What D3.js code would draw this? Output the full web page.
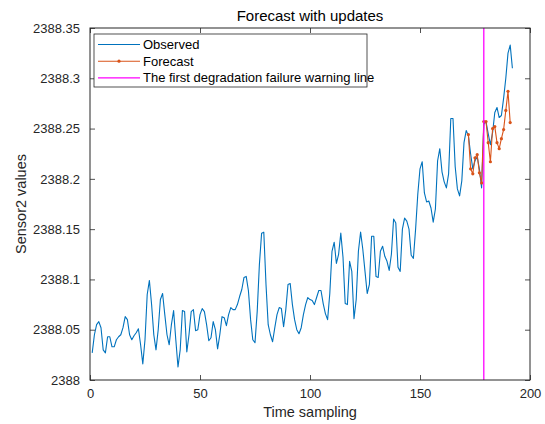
<!DOCTYPE html>
<html>
<head>
<meta charset="utf-8">
<script src="https://cdn.jsdelivr.net/npm/d3@7"></script>
<style>
  body { margin: 0; background: #fff; }
  svg { display: block; font-family: "Liberation Sans", Arial, sans-serif; }
</style>
</head>
<body>
<svg id="chart" width="545" height="424"></svg>
<script>
// ---- data ----
const observedStart = 1;
const observed = [
  2388.027, 2388.045, 2388.055, 2388.058, 2388.052, 2388.030, 2388.027, 2388.043, 2388.043, 2388.033,
  2388.033, 2388.040, 2388.043, 2388.045, 2388.052, 2388.063, 2388.060, 2388.045, 2388.040, 2388.044,
  2388.047, 2388.051, 2388.035, 2388.016, 2388.040, 2388.085, 2388.099, 2388.075, 2388.045, 2388.030,
  2388.050, 2388.080, 2388.086, 2388.065, 2388.045, 2388.035, 2388.055, 2388.069, 2388.040, 2388.013,
  2388.030, 2388.069, 2388.068, 2388.028, 2388.045, 2388.068, 2388.070, 2388.049, 2388.050, 2388.065,
  2388.071, 2388.068, 2388.055, 2388.039, 2388.042, 2388.058, 2388.050, 2388.031, 2388.045, 2388.063,
  2388.062, 2388.054, 2388.065, 2388.072, 2388.070, 2388.070, 2388.075, 2388.083, 2388.090, 2388.102,
  2388.103, 2388.089, 2388.060, 2388.040, 2388.037, 2388.068, 2388.115, 2388.146, 2388.147, 2388.095,
  2388.055, 2388.045, 2388.038, 2388.052, 2388.065, 2388.072, 2388.071, 2388.053, 2388.070, 2388.095,
  2388.096, 2388.075, 2388.060, 2388.050, 2388.046, 2388.052, 2388.065, 2388.075, 2388.082, 2388.080,
  2388.079, 2388.075, 2388.082, 2388.089, 2388.089, 2388.076, 2388.066, 2388.060, 2388.086, 2388.128,
  2388.137, 2388.116, 2388.125, 2388.146, 2388.122, 2388.076, 2388.075, 2388.118, 2388.108, 2388.061,
  2388.080, 2388.128, 2388.147, 2388.130, 2388.108, 2388.086, 2388.095, 2388.143, 2388.143, 2388.103,
  2388.102, 2388.128, 2388.133, 2388.123, 2388.118, 2388.109, 2388.125, 2388.160, 2388.156, 2388.112,
  2388.108, 2388.150, 2388.161, 2388.158, 2388.150, 2388.124, 2388.121, 2388.150, 2388.185, 2388.210,
  2388.217, 2388.186, 2388.177, 2388.178, 2388.171, 2388.157, 2388.170, 2388.218, 2388.230, 2388.207,
  2388.197, 2388.191, 2388.205, 2388.260, 2388.260, 2388.212, 2388.190, 2388.183, 2388.198, 2388.236,
  2388.248, 2388.243, 2388.225, 2388.210, 2388.218, 2388.222, 2388.210, 2388.191, 2388.254, 2388.257,
  2388.245, 2388.234, 2388.246, 2388.266, 2388.271, 2388.261, 2388.263, 2388.280, 2388.300, 2388.325,
  2388.333, 2388.310
];
const forecastStart = 172;
const forecast = [
  2388.244, 2388.210, 2388.205, 2388.221, 2388.224, 2388.206, 2388.196, 2388.257, 2388.257, 2388.236,
  2388.217, 2388.250, 2388.252, 2388.236, 2388.230, 2388.240, 2388.249, 2388.268, 2388.287, 2388.256
];
const warningX = 179;
const xTicks = [0, 50, 100, 150, 200];
const yTicks = [2388, 2388.05, 2388.1, 2388.15, 2388.2, 2388.25, 2388.3, 2388.35];
const yTickLabels = ["2388", "2388.05", "2388.1", "2388.15", "2388.2", "2388.25", "2388.3", "2388.35"];
const legendLabels = ["Observed", "Forecast", "The first degradation failure warning line"];
const titleText = "Forecast with updates";
const xLabelText = "Time sampling";
const yLabelText = "Sensor2 values";

// ---- layout ----
const L = 90, R = 530, T = 28, B = 380;
const axisColor = "#262626";
const cBlue = "#0072BD", cOrange = "#D95319", cMag = "#FF00FF";

const svg = d3.select("#chart");
const x = d3.scaleLinear().domain([0, 200]).range([L, R]);
const y = d3.scaleLinear().domain([2388, 2388.35]).range([B, T]);

const obsData = observed.map((v, i) => [observedStart + i, v]);
const fcData = forecast.map((v, i) => [forecastStart + i, v]);

const clip = svg.append("defs").append("clipPath").attr("id", "clip")
  .append("rect").attr("x", L).attr("y", T).attr("width", R - L).attr("height", B - T);

const plot = svg.append("g").attr("clip-path", "url(#clip)");
const line = d3.line().x(d => x(d[0])).y(d => y(d[1]));

plot.append("path").datum(obsData).attr("d", line)
  .attr("fill", "none").attr("stroke", cBlue).attr("stroke-width", 1.1).attr("stroke-linejoin", "round");

plot.append("path").datum(fcData).attr("d", line)
  .attr("fill", "none").attr("stroke", cOrange).attr("stroke-width", 1.1).attr("stroke-linejoin", "round");
plot.selectAll("circle.fc").data(fcData).enter().append("circle")
  .attr("class", "fc").attr("cx", d => x(d[0])).attr("cy", d => y(d[1])).attr("r", 1.6).attr("fill", cOrange);

plot.append("line").attr("x1", x(warningX)).attr("x2", x(warningX)).attr("y1", y(2388)).attr("y2", y(2388.35))
  .attr("stroke", cMag).attr("stroke-width", 1.3);

// ---- axes (MATLAB style: ticks inside, box on) ----
const tickLen = 5;
const fontTick = 13;
const xAxis = d3.axisBottom(x).tickValues(xTicks).tickSizeInner(-tickLen).tickSizeOuter(0).tickPadding(9);
const gx = svg.append("g").attr("transform", `translate(0,${B})`).call(xAxis);
const xTop = d3.axisTop(x).tickValues(xTicks).tickSizeInner(-tickLen).tickSizeOuter(0).tickFormat("");
const gxt = svg.append("g").attr("transform", `translate(0,${T})`).call(xTop);
const yAxis = d3.axisLeft(y).tickValues(yTicks).tickSizeInner(-tickLen).tickSizeOuter(0).tickPadding(10)
  .tickFormat((d, i) => yTickLabels[i]);
const gy = svg.append("g").attr("transform", `translate(${L},0)`).call(yAxis);
const yRight = d3.axisRight(y).tickValues(yTicks).tickSizeInner(-tickLen).tickSizeOuter(0).tickFormat("");
const gyr = svg.append("g").attr("transform", `translate(${R},0)`).call(yRight);

[gx, gxt, gy, gyr].forEach(g => {
  g.select(".domain").remove();
  g.selectAll(".tick line").attr("stroke", axisColor).attr("stroke-width", 0.8);
  g.selectAll("text").attr("fill", axisColor).style("font-size", fontTick + "px")
    .style("font-family", '"Liberation Sans", Arial, sans-serif');
});
gx.selectAll(".tick text").attr("dy", "0.71em");

svg.append("rect").attr("x", L).attr("y", T).attr("width", R - L).attr("height", B - T)
  .attr("fill", "none").attr("stroke", axisColor).attr("stroke-width", 1);

// ---- labels ----
svg.append("text").attr("x", (L + R) / 2).attr("y", 21).attr("text-anchor", "middle")
  .style("font-size", "15px").attr("fill", "#000").text(titleText);
svg.append("text").attr("x", (L + R) / 2).attr("y", 417).attr("text-anchor", "middle")
  .style("font-size", "14.5px").attr("fill", axisColor).text(xLabelText);
svg.append("text").attr("transform", `translate(26,${(T + B) / 2}) rotate(-90)`).attr("text-anchor", "middle")
  .style("font-size", "14.5px").attr("fill", axisColor).text(yLabelText);

// ---- legend ----
const lg = svg.append("g");
lg.append("rect").attr("x", 94).attr("y", 34).attr("width", 273).attr("height", 53)
  .attr("fill", "#fff").attr("stroke", axisColor).attr("stroke-width", 0.8);
const legendColors = [cBlue, cOrange, cMag];
legendLabels.forEach((lab, i) => {
  const yy = 44.5 + i * 16.7;
  lg.append("line").attr("x1", 98).attr("x2", 140).attr("y1", yy).attr("y2", yy)
    .attr("stroke", legendColors[i]).attr("stroke-width", 1.1);
  if (i === 1) lg.append("circle").attr("cx", 119).attr("cy", yy).attr("r", 1.6).attr("fill", cOrange);
  lg.append("text").attr("x", 143).attr("y", yy).attr("dy", "0.35em")
    .style("font-size", "13px").attr("fill", "#000").text(lab);
});
</script>
</body>
</html>
